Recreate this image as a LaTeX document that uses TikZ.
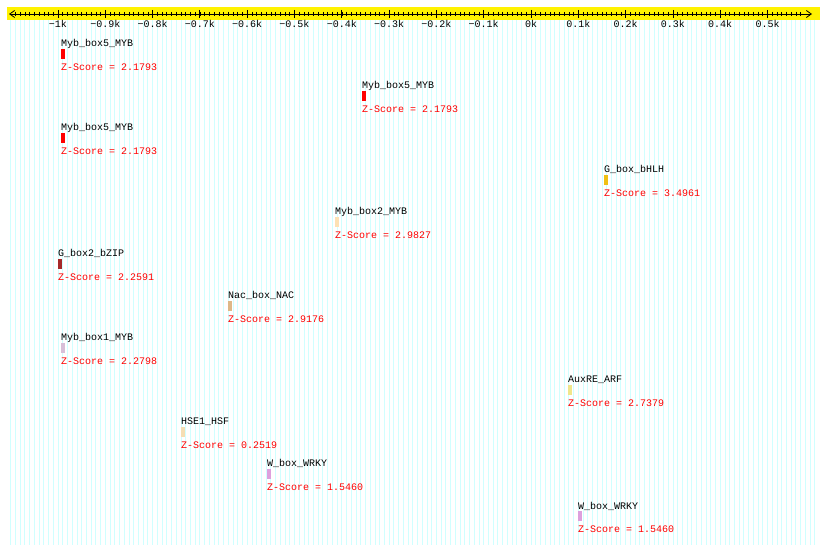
\documentclass[tikz,border=0pt]{standalone}
\usepackage{fontspec}
\newfontfamily\monofont{Liberation Mono}
\usetikzlibrary{arrows.meta, positioning}
\definecolor{gridcyan}{RGB}{208,255,255}
\definecolor{bhlh}{RGB}{240,192,20}
\definecolor{mybtwo}{RGB}{253,225,180}
\definecolor{bzip}{RGB}{165,42,42}
\definecolor{nac}{RGB}{222,184,135}
\definecolor{mybone}{RGB}{216,191,216}
\definecolor{arf}{RGB}{240,230,140}
\definecolor{hsf}{RGB}{245,222,179}
\definecolor{wrky}{RGB}{221,160,221}

\begin{document}
\begin{tikzpicture}[x=1pt, y=1pt,
    motif/.style={anchor=base west, inner sep=0pt, text depth=2pt, font=\monofont\fontsize{10}{11}\selectfont},
    score/.style={motif, text=red, text height=8pt},
    hit/.style={inner sep=0pt, minimum width=3.5pt, minimum height=10pt},
    tick/.style={inner sep=0pt, font=\monofont\fontsize{10}{11}\selectfont}]
    \useasboundingbox[fill=white] (0,0) rectangle (820,-545);

    % background stripes
    \foreach \v in {-1100,-1090,...,600}
        \draw[gridcyan, line width=0.8pt] ({531+0.473*\v},-20) -- ({531+0.473*\v},-545);

    % ruler
    \fill[yellow] (7,-7) rectangle (820,-20);
    \coordinate (left) at (9,-14);
    \coordinate (right) at (812,-14);
    \draw[{Straight Barb[length=5pt, width=7pt]}-{Straight Barb[length=5pt, width=7pt]}, line width=0.8pt] (left) -- (right);
    \foreach \v in {-1090,-1080,...,570}
        \draw[line width=0.6pt] ({531+0.473*\v},-12) -- ++(0,-4.5);
    \foreach \v/\t in {-1000/−1k, -900/−0.9k, -800/−0.8k, -700/−0.7k, -600/−0.6k, -500/−0.5k, -400/−0.4k, -300/−0.3k, -200/−0.2k, -100/−0.1k, 0/0k, 100/0.1k, 200/0.2k, 300/0.3k, 400/0.4k, 500/0.5k} {
        \draw[line width=0.8pt] ({531+0.473*\v},-10) -- ++(0,-8.5);
        \node[tick] (t\v) at ({531+0.473*\v},-24) {\t};
    }

    % motif hits
    \node[motif] (l1) at (61,-47) {Myb\_box5\_MYB};
    \node[hit, fill=red, below right=0pt and 0pt of l1.south west] (b1) {};
    \node[score, below right=3pt and 0pt of b1.south west] (z1) {Z-Score = 2.1793};

    \node[motif] (l2) at (362,-89) {Myb\_box5\_MYB};
    \node[hit, fill=red, below right=0pt and 0pt of l2.south west] (b2) {};
    \node[score, below right=3pt and 0pt of b2.south west] (z2) {Z-Score = 2.1793};

    \node[motif] (l3) at (61,-131) {Myb\_box5\_MYB};
    \node[hit, fill=red, below right=0pt and 0pt of l3.south west] (b3) {};
    \node[score, below right=3pt and 0pt of b3.south west] (z3) {Z-Score = 2.1793};

    \node[motif] (l4) at (604,-173) {G\_box\_bHLH};
    \node[hit, fill=bhlh, below right=0pt and 0pt of l4.south west] (b4) {};
    \node[score, below right=3pt and 0pt of b4.south west] (z4) {Z-Score = 3.4961};

    \node[motif] (l5) at (335,-215) {Myb\_box2\_MYB};
    \node[hit, fill=mybtwo, below right=0pt and 0pt of l5.south west] (b5) {};
    \node[score, below right=3pt and 0pt of b5.south west] (z5) {Z-Score = 2.9827};

    \node[motif] (l6) at (58,-257) {G\_box2\_bZIP};
    \node[hit, fill=bzip, below right=0pt and 0pt of l6.south west] (b6) {};
    \node[score, below right=3pt and 0pt of b6.south west] (z6) {Z-Score = 2.2591};

    \node[motif] (l7) at (228,-299) {Nac\_box\_NAC};
    \node[hit, fill=nac, below right=0pt and 0pt of l7.south west] (b7) {};
    \node[score, below right=3pt and 0pt of b7.south west] (z7) {Z-Score = 2.9176};

    \node[motif] (l8) at (61,-341) {Myb\_box1\_MYB};
    \node[hit, fill=mybone, below right=0pt and 0pt of l8.south west] (b8) {};
    \node[score, below right=3pt and 0pt of b8.south west] (z8) {Z-Score = 2.2798};

    \node[motif] (l9) at (568,-383) {AuxRE\_ARF};
    \node[hit, fill=arf, below right=0pt and 0pt of l9.south west] (b9) {};
    \node[score, below right=3pt and 0pt of b9.south west] (z9) {Z-Score = 2.7379};

    \node[motif] (l10) at (181,-425) {HSE1\_HSF};
    \node[hit, fill=hsf, below right=0pt and 0pt of l10.south west] (b10) {};
    \node[score, below right=3pt and 0pt of b10.south west] (z10) {Z-Score = 0.2519};

    \node[motif] (l11) at (267,-467) {W\_box\_WRKY};
    \node[hit, fill=wrky, below right=0pt and 0pt of l11.south west] (b11) {};
    \node[score, below right=3pt and 0pt of b11.south west] (z11) {Z-Score = 1.5460};

    \node[motif] (l12) at (578,-509) {W\_box\_WRKY};
    \node[hit, fill=wrky, below right=0pt and 0pt of l12.south west] (b12) {};
    \node[score, below right=3pt and 0pt of b12.south west] (z12) {Z-Score = 1.5460};
\end{tikzpicture}
\end{document}
